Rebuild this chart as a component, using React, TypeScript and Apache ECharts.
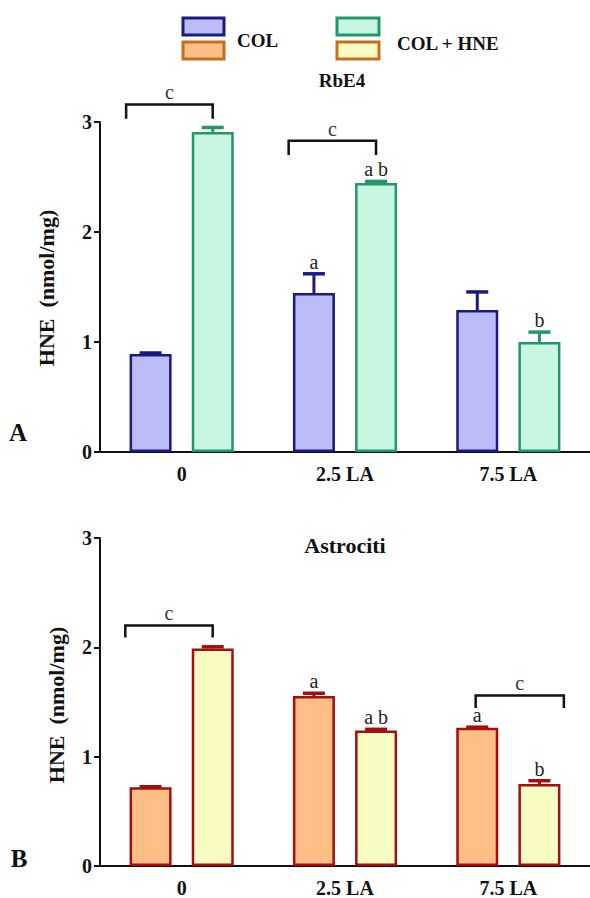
import React, { useEffect, useRef } from 'react';
import * as echarts from 'echarts';

const categories = ['0', '2.5 LA', '7.5 LA'];

// Panel A – RbE4
const rbe4Col = [0.89, 1.445, 1.29];
const rbe4ColErr = [0.01, 0.175, 0.165];
const rbe4Hne = [2.91, 2.445, 1.0];
const rbe4HneErr = [0.04, 0.015, 0.09];
const rbe4ColLetters = ['', 'a', ''];
const rbe4HneLetters = ['', 'a b', 'b'];
// brackets: [category index, start (band fraction from centre), end, top value, leg value]
const rbe4Brackets = [
  [0, -0.34, 0.19, 3.16, 3.03],
  [1, -0.345, 0.19, 2.83, 2.7],
];
const rbe4BracketLabels = ['c', 'c'];

// Panel B – Astrociti
const astroCol = [0.72, 1.555, 1.265];
const astroColErr = [0.005, 0.025, 0.005];
const astroHne = [1.99, 1.24, 0.75];
const astroHneErr = [0.015, 0.01, 0.03];
const astroColLetters = ['', 'a', 'a'];
const astroHneLetters = ['', 'a b', 'b'];
const astroBrackets = [
  [0, -0.345, 0.19, 2.2, 2.09],
  [2, -0.2, 0.34, 1.56, 1.445],
];
const astroBracketLabels = ['c', 'c'];

const BAR_W = 42;
const BAR_GAP = 0.48;
const OFFSET = (BAR_W * (1 + BAR_GAP)) / 2;
const SERIF = '"Liberation Serif", "Times New Roman", serif';

const C_NAVY = '#1a1a80';
const C_LAV = '#bcbdf8';
const C_GREEN = '#23966c';
const C_MINT = '#c8f6e2';
const C_RED = '#a30f0f';
const C_ORANGE = '#fdbf86';
const C_YELLOW = '#f6fcc2';
const C_BROWN = '#c56e22';

function errRender(sign: number, color: string, letters: string[]) {
  return (params: any, api: any) => {
    const idx = api.value(0);
    const v = api.value(1);
    const e = api.value(2);
    const base = api.coord([idx, v]);
    const top = api.coord([idx, v + e]);
    const x = base[0] + sign * OFFSET;
    const children: any[] = [];
    if (e > 0) {
      children.push({
        type: 'line',
        shape: { x1: x, y1: base[1], x2: x, y2: top[1] },
        style: { stroke: color, lineWidth: 3 },
      });
      children.push({
        type: 'line',
        shape: { x1: x - 11, y1: top[1], x2: x + 11, y2: top[1] },
        style: { stroke: color, lineWidth: 3.5 },
      });
    }
    const t = letters[params.dataIndex];
    if (t) {
      children.push({
        type: 'text',
        x,
        y: top[1] - 2,
        style: {
          text: t,
          fill: '#222',
          font: `20px ${SERIF}`,
          align: 'center',
          verticalAlign: 'bottom',
        },
      });
    }
    return { type: 'group', children };
  };
}

function bracketRender(labels: string[]) {
  return (params: any, api: any) => {
    const idx = api.value(0);
    const band = api.size([1, 0])[0];
    const pTop = api.coord([idx, api.value(3)]);
    const pLeg = api.coord([idx, api.value(4)]);
    const x0 = pTop[0] + api.value(1) * band;
    const x1 = pTop[0] + api.value(2) * band;
    return {
      type: 'group',
      children: [
        {
          type: 'polyline',
          shape: {
            points: [
              [x0, pLeg[1]],
              [x0, pTop[1]],
              [x1, pTop[1]],
              [x1, pLeg[1]],
            ],
          },
          style: { stroke: '#111', lineWidth: 2.5, fill: null },
        },
        {
          type: 'text',
          x: (x0 + x1) / 2,
          y: pTop[1] - 2,
          style: {
            text: labels[params.dataIndex],
            fill: '#333',
            font: `20px ${SERIF}`,
            align: 'center',
            verticalAlign: 'bottom',
          },
        },
      ],
    };
  };
}

function xAxisFor(gridIndex: number) {
  return {
    type: 'category',
    gridIndex,
    data: categories,
    axisLine: { lineStyle: { color: '#111', width: 2 } },
    axisTick: { alignWithLabel: true, length: 6, lineStyle: { color: '#111', width: 2 } },
    axisLabel: { color: '#111', fontFamily: SERIF, fontWeight: 'bold', fontSize: 20, margin: 12 },
  };
}

function yAxisFor(gridIndex: number) {
  return {
    type: 'value',
    gridIndex,
    min: 0,
    max: 3,
    interval: 1,
    splitLine: { show: false },
    axisLine: { show: true, lineStyle: { color: '#111', width: 2 } },
    axisTick: { show: true, length: 6, lineStyle: { color: '#111', width: 2 } },
    axisLabel: { color: '#111', fontFamily: SERIF, fontWeight: 'bold', fontSize: 20, margin: 8 },
  };
}

function panelSeries(
  gi: number,
  col: number[], colErr: number[], colLetters: string[], colFill: string, colBorder: string,
  hne: number[], hneErr: number[], hneLetters: string[], hneFill: string, hneBorder: string,
  brackets: number[][], bracketLabels: string[], errColorCol: string, errColorHne: string
) {
  return [
    {
      type: 'bar',
      xAxisIndex: gi,
      yAxisIndex: gi,
      data: col,
      barWidth: BAR_W,
      barGap: `${BAR_GAP * 100}%`,
      itemStyle: { color: colFill, borderColor: colBorder, borderWidth: 2.5 },
    },
    {
      type: 'bar',
      xAxisIndex: gi,
      yAxisIndex: gi,
      data: hne,
      barWidth: BAR_W,
      barGap: `${BAR_GAP * 100}%`,
      itemStyle: { color: hneFill, borderColor: hneBorder, borderWidth: 2.5 },
    },
    {
      type: 'custom',
      xAxisIndex: gi,
      yAxisIndex: gi,
      clip: false,
      z: 5,
      encode: { x: 0, y: 1 },
      data: col.map((v, i) => [i, v, colErr[i]]),
      renderItem: errRender(-1, errColorCol, colLetters),
    },
    {
      type: 'custom',
      xAxisIndex: gi,
      yAxisIndex: gi,
      clip: false,
      z: 5,
      encode: { x: 0, y: 1 },
      data: hne.map((v, i) => [i, v, hneErr[i]]),
      renderItem: errRender(1, errColorHne, hneLetters),
    },
    {
      type: 'custom',
      xAxisIndex: gi,
      yAxisIndex: gi,
      clip: false,
      z: 5,
      encode: { x: 0, y: 4 },
      data: brackets,
      renderItem: bracketRender(bracketLabels),
    },
  ];
}

export default function App() {
  const ref = useRef<HTMLDivElement>(null);
  useEffect(() => {
    if (!ref.current) return;
    const chart = echarts.init(ref.current, null, { renderer: 'svg' });
    const bold = (size: number) => `bold ${size}px ${SERIF}`;
    chart.setOption({
      animation: false,
      backgroundColor: '#ffffff',
      grid: [
        { left: 100, top: 122, width: 495, height: 330 },
        { left: 100, top: 538, width: 495, height: 330 },
      ],
      xAxis: [xAxisFor(0), xAxisFor(1)],
      yAxis: [yAxisFor(0), yAxisFor(1)],
      series: [
        ...panelSeries(
          0,
          rbe4Col, rbe4ColErr, rbe4ColLetters, C_LAV, C_NAVY,
          rbe4Hne, rbe4HneErr, rbe4HneLetters, C_MINT, C_GREEN,
          rbe4Brackets, rbe4BracketLabels, C_NAVY, C_GREEN
        ),
        ...panelSeries(
          1,
          astroCol, astroColErr, astroColLetters, C_ORANGE, C_RED,
          astroHne, astroHneErr, astroHneLetters, C_YELLOW, C_RED,
          astroBrackets, astroBracketLabels, C_RED, C_RED
        ),
      ],
      graphic: [
        // legend
        { type: 'rect', shape: { x: 183, y: 18, width: 41, height: 17 }, style: { fill: C_LAV, stroke: C_NAVY, lineWidth: 3 } },
        { type: 'rect', shape: { x: 183, y: 42, width: 41, height: 17 }, style: { fill: C_ORANGE, stroke: C_BROWN, lineWidth: 3 } },
        { type: 'text', x: 237, y: 40, style: { text: 'COL', font: bold(19), fill: '#111', verticalAlign: 'middle' } },
        { type: 'rect', shape: { x: 337, y: 18, width: 42, height: 17 }, style: { fill: C_MINT, stroke: C_GREEN, lineWidth: 3 } },
        { type: 'rect', shape: { x: 337, y: 42, width: 42, height: 17 }, style: { fill: C_YELLOW, stroke: C_BROWN, lineWidth: 3 } },
        { type: 'text', x: 397, y: 43, style: { text: 'COL + HNE', font: bold(19), fill: '#111', verticalAlign: 'middle' } },
        // titles
        { type: 'text', x: 342, y: 80, style: { text: 'RbE4', font: bold(19), fill: '#111', align: 'center', verticalAlign: 'middle' } },
        { type: 'text', x: 345, y: 545, style: { text: 'Astrociti', font: bold(22), fill: '#111', align: 'center', verticalAlign: 'middle' } },
        // panel letters
        { type: 'text', x: 18, y: 432, style: { text: 'A', font: bold(25), fill: '#111', align: 'center', verticalAlign: 'middle' } },
        { type: 'text', x: 19, y: 858, style: { text: 'B', font: bold(25), fill: '#111', align: 'center', verticalAlign: 'middle' } },
        // y-axis titles
        { type: 'text', x: 46, y: 288, rotation: Math.PI / 2, style: { text: 'HNE  (nmol/mg)', font: bold(22), fill: '#111', align: 'center', verticalAlign: 'middle' } },
        { type: 'text', x: 56, y: 705, rotation: Math.PI / 2, style: { text: 'HNE  (nmol/mg)', font: bold(22), fill: '#111', align: 'center', verticalAlign: 'middle' } },
      ],
    });
    return () => chart.dispose();
  }, []);
  return (
    <div
      ref={ref}
      style={{ position: 'fixed', left: 0, top: 0, width: 590, height: 898 }}
    />
  );
}
